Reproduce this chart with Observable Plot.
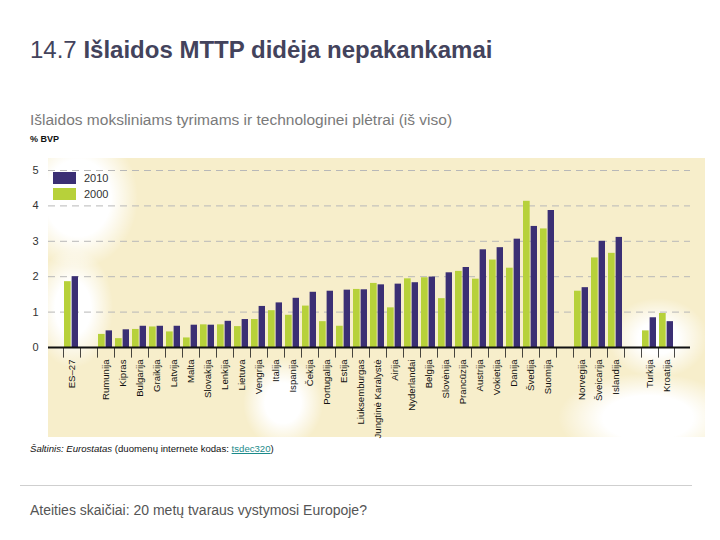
<!DOCTYPE html>
<html>
<head>
<meta charset="utf-8">
<script src="https://cdn.jsdelivr.net/npm/d3@7"></script>
<script src="https://cdn.jsdelivr.net/npm/@observablehq/plot@0.6"></script>
<style>
  html, body { margin: 0; padding: 0; background: #fff; }
  body { width: 720px; height: 540px; position: relative; overflow: hidden; font-family: "Liberation Sans", Arial, sans-serif; }
  .abs { position: absolute; }
  #title { left: 30px; top: 36px; font-size: 24px; color: #43435c; white-space: nowrap; }
  #title b { font-weight: bold; }
  #subtitle { left: 30px; top: 111px; font-size: 15.5px; color: #7a7a7a; white-space: nowrap; }
  #unit { left: 30px; top: 134px; font-size: 9px; font-weight: bold; color: #111; }
  #map { left: 48px; top: 158px; width: 657px; height: 279px;
    background:
      radial-gradient(ellipse 60px 70px at 30px 40px, #ffffff 0%, #ffffff 55%, rgba(255,255,255,0) 100%),
      radial-gradient(ellipse 40px 60px at 25px 150px, #ffffff 0%, #ffffff 45%, rgba(255,255,255,0) 100%),
      radial-gradient(ellipse 40px 45px at 235px 245px, #ffffff 0%, #ffffff 45%, rgba(255,255,255,0) 100%),
      radial-gradient(ellipse 90px 45px at 600px 260px, #ffffff 0%, #ffffff 50%, rgba(255,255,255,0) 100%),
      radial-gradient(ellipse 50px 40px at 610px 180px, #ffffff 0%, #ffffff 40%, rgba(255,255,255,0) 100%),
      #f7eecb; }
  #chart { left: 0px; top: 160px; }
  #legend { left: 53px; top: 172px; font-size: 11px; color: #333; }
  .sw { display: flex; align-items: center; height: 12px; margin-bottom: 4px; }
  .sw span.box { display: inline-block; width: 23px; height: 12px; margin-right: 8px; }
  #source { left: 30px; top: 443px; font-size: 9.6px; color: #111; white-space: nowrap; }
  #source a { color: #1a8a8a; text-decoration: underline; }
  #rule { left: 20px; top: 485px; width: 672px; height: 1px; background: #cfcfcf; }
  #footer { left: 30px; top: 502px; font-size: 14px; color: #555; white-space: nowrap; }
</style>
</head>
<body>
<div id="title" class="abs">14.7 <b>Išlaidos MTTP didėja nepakankamai</b></div>
<div id="subtitle" class="abs">Išlaidos moksliniams tyrimams ir technologinei plėtrai (iš viso)</div>
<div id="unit" class="abs">% BVP</div>
<div id="map" class="abs"></div>
<div id="chart" class="abs"></div>
<div id="legend" class="abs"></div>
<div id="source" class="abs"><i>Šaltinis: Eurostatas</i> (duomenų internete kodas: <a>tsdec320</a>)</div>
<div id="rule" class="abs"></div>
<div id="footer" class="abs">Ateities skaičiai: 20 metų tvaraus vystymosi Europoje?</div>
<script>
// Categories along the x axis (blank entries are the gaps between groups)
const categories = ["ES–27", " ",
  "Rumunija", "Kipras", "Bulgarija", "Graikija", "Latvija", "Malta", "Slovakija", "Lenkija", "Lietuva", "Vengrija",
  "Italija", "Ispanija", "Čekija", "Portugalija", "Estija", "Liuksemburgas", "Jungtinė Karalystė", "Airija",
  "Nyderlandai", "Belgija", "Slovėnija", "Prancūzija", "Austrija", "Vokietija", "Danija", "Švedija", "Suomija",
  "  ", "Norvegija", "Šveicarija", "Islandija", "   ", "Turkija", "Kroatija"];

const countries = ["ES–27",
  "Rumunija", "Kipras", "Bulgarija", "Graikija", "Latvija", "Malta", "Slovakija", "Lenkija", "Lietuva", "Vengrija",
  "Italija", "Ispanija", "Čekija", "Portugalija", "Estija", "Liuksemburgas", "Jungtinė Karalystė", "Airija",
  "Nyderlandai", "Belgija", "Slovėnija", "Prancūzija", "Austrija", "Vokietija", "Danija", "Švedija", "Suomija",
  "Norvegija", "Šveicarija", "Islandija", "Turkija", "Kroatija"];

const values2000 = [1.86,
  0.37, 0.25, 0.51, 0.58, 0.44, 0.27, 0.64, 0.64, 0.59, 0.79,
  1.04, 0.91, 1.17, 0.73, 0.60, 1.64, 1.81, 1.12,
  1.94, 1.97, 1.38, 2.15, 1.93, 2.47, 2.24, 4.13, 3.35,
  1.59, 2.53, 2.66, 0.47, 0.96];

const values2010 = [2.00,
  0.47, 0.50, 0.60, 0.60, 0.60, 0.63, 0.63, 0.74, 0.79, 1.16,
  1.26, 1.39, 1.56, 1.59, 1.62, 1.63, 1.77, 1.79,
  1.83, 1.99, 2.11, 2.26, 2.76, 2.82, 3.06, 3.42, 3.87,
  1.69, 3.00, 3.11, 0.84, 0.73];

const seriesNames = ["2010", "2000"];
const colors = {"2010": "#3b2f74", "2000": "#b7d13a"};

const yTicks = [0, 1, 2, 3, 4, 5];

const d2000 = countries.map((c, i) => ({country: c, value: values2000[i]}));
const d2010 = countries.map((c, i) => ({country: c, value: values2010[i]}));

const W = 720, ML = 48, MR = 30;
const bw = (W - ML - MR) / categories.length;
const lastCat = categories[categories.length - 1];

const chart = Plot.plot({
  width: W,
  height: 282,
  marginLeft: ML,
  marginRight: MR,
  marginTop: 10,
  marginBottom: 95,
  style: {background: "transparent", fontFamily: "'Liberation Sans', Arial, sans-serif", fontSize: "9.6px", color: "#222"},
  x: {domain: categories, padding: 0, label: null},
  y: {domain: [0, 5], label: null},
  marks: [
    Plot.ruleY(yTicks.slice(1), {stroke: "#b8b8b8", strokeDasharray: "7,5", strokeWidth: 1}),
    Plot.barY(d2000, {x: "country", y: "value", fill: colors["2000"], insetLeft: 1, insetRight: bw / 2 + 0.4}),
    Plot.barY(d2010, {x: "country", y: "value", fill: colors["2010"], insetLeft: bw / 2 - 0.3, insetRight: 2}),
    // boundary ticks between categories (at the start of each band, and at the end of the last)
    Plot.barY(categories, {x: d => d, y1: 0, y2: -0.3, fill: "#111", insetLeft: 0, insetRight: bw - 1.6}),
    Plot.barY([lastCat], {x: d => d, y1: 0, y2: -0.3, fill: "#111", insetLeft: bw - 1.6, insetRight: 0}),
    Plot.ruleY([0], {stroke: "#111", strokeWidth: 2}),
    Plot.axisX({tickSize: 0, tickPadding: 12, tickRotate: -90, tickFormat: d => d.trim() === "" ? "" : d, fill: "#111"}),
    Plot.axisY({ticks: yTicks, tickFormat: d3.format("d"), tickSize: 0, tickPadding: 10, fill: "#333", fontSize: 11})
  ]
});
document.getElementById("chart").appendChild(chart);

const legend = document.getElementById("legend");
for (const s of seriesNames) {
  const row = document.createElement("div");
  row.className = "sw";
  const box = document.createElement("span");
  box.className = "box";
  box.style.background = colors[s];
  row.appendChild(box);
  row.appendChild(document.createTextNode(s));
  legend.appendChild(row);
}
</script>
</body>
</html>
